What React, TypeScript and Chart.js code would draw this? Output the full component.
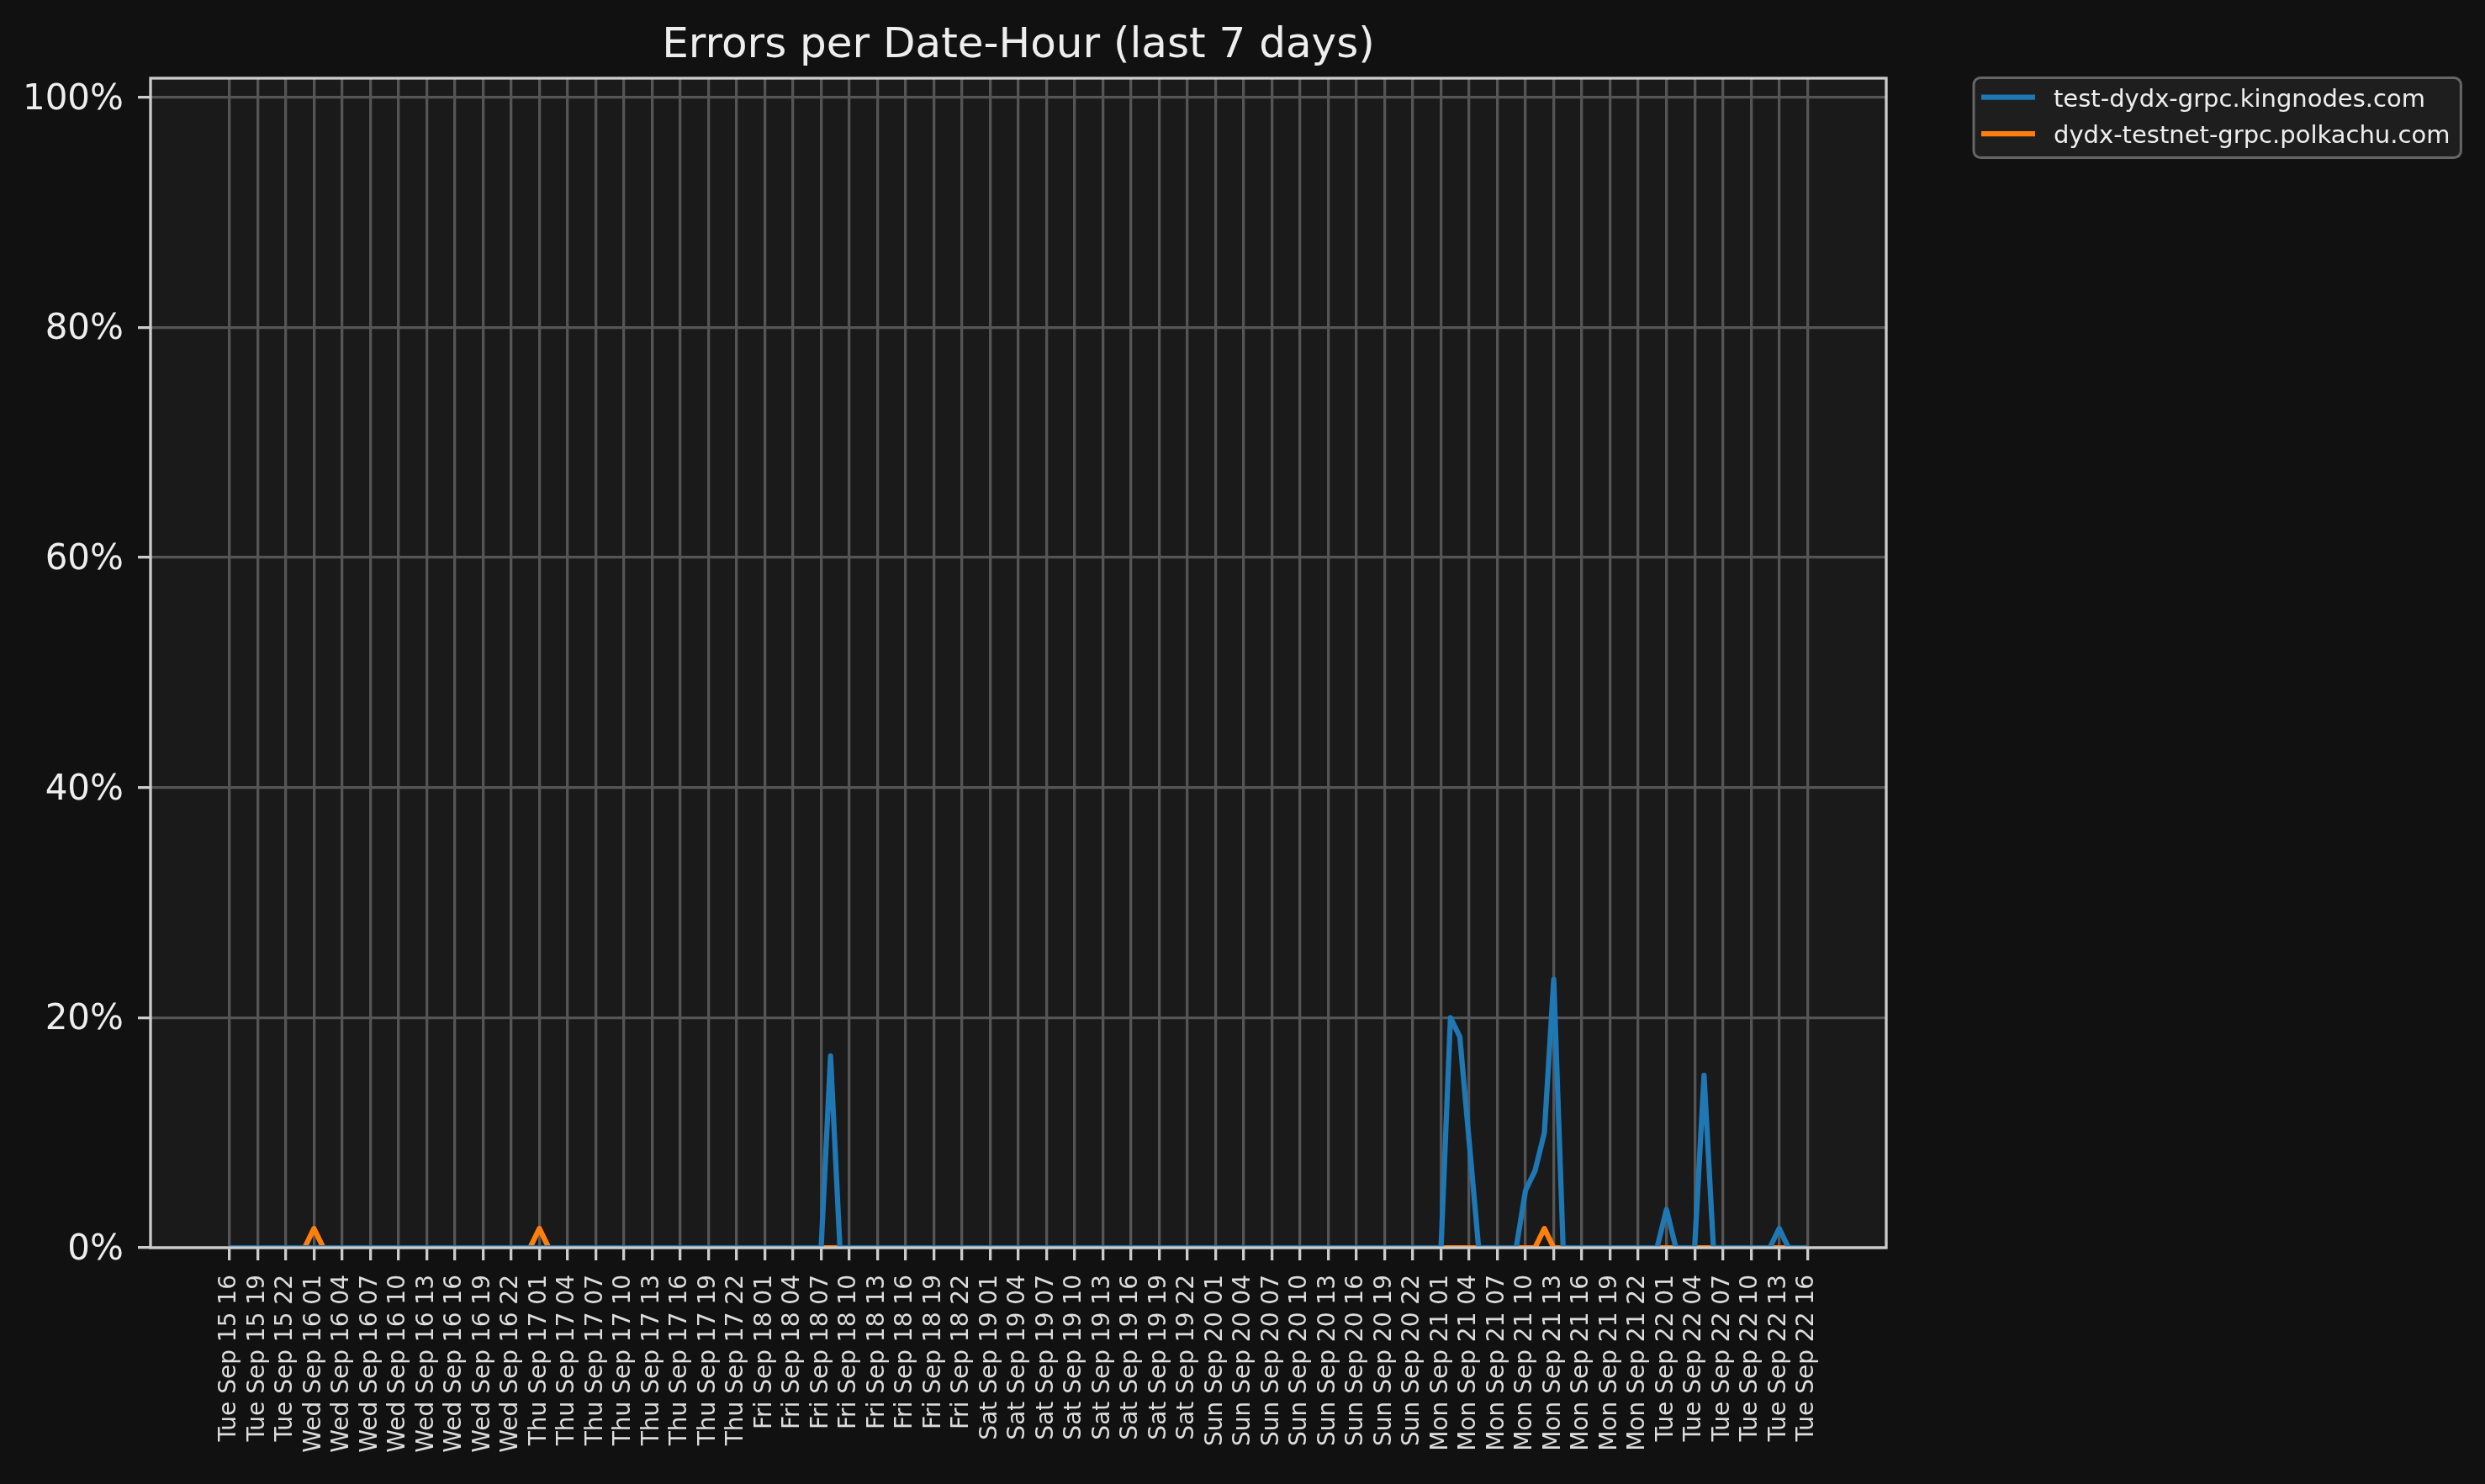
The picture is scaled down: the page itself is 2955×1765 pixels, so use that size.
import { useEffect, useRef } from "react";
import { Chart, registerables } from "chart.js";

Chart.register(...registerables);

const FONT = '"DejaVu Sans", "Liberation Sans", sans-serif';

const chartTitle = "Errors per Date-Hour (last 7 days)";
const seriesNames = ["test-dydx-grpc.kingnodes.com", "dydx-testnet-grpc.polkachu.com"];
const seriesColors = ["#1f77b4", "#ff7f0e"];

// error rate in %, one value per hour: Tue Sep 15 16:00 .. Tue Sep 22 16:00
const kingnodesErrors = [
  // Tue Sep 15, 16-23
  0, 0, 0, 0, 0, 0, 0, 0,
  // Wed Sep 16
  0, 0, 0, 0, 0, 0, 0, 0, 0, 0, 0, 0, 0, 0, 0, 0, 0, 0, 0, 0, 0, 0, 0, 0,
  // Thu Sep 17
  0, 0, 0, 0, 0, 0, 0, 0, 0, 0, 0, 0, 0, 0, 0, 0, 0, 0, 0, 0, 0, 0, 0, 0,
  // Fri Sep 18
  0, 0, 0, 0, 0, 0, 0, 0, 16.67, 0, 0, 0, 0, 0, 0, 0, 0, 0, 0, 0, 0, 0, 0, 0,
  // Sat Sep 19
  0, 0, 0, 0, 0, 0, 0, 0, 0, 0, 0, 0, 0, 0, 0, 0, 0, 0, 0, 0, 0, 0, 0, 0,
  // Sun Sep 20
  0, 0, 0, 0, 0, 0, 0, 0, 0, 0, 0, 0, 0, 0, 0, 0, 0, 0, 0, 0, 0, 0, 0, 0,
  // Mon Sep 21
  0, 0, 20, 18.33, 9.17, 0, 0, 0, 0, 0, 5, 6.67, 10, 23.33, 0, 0, 0, 0, 0, 0, 0, 0, 0, 0,
  // Tue Sep 22, 00-16
  0, 3.33, 0, 0, 0, 15, 0, 0, 0, 0, 0, 0, 0, 1.67, 0, 0, 0,
];

const polkachuErrors = [
  // Tue Sep 15, 16-23
  0, 0, 0, 0, 0, 0, 0, 0,
  // Wed Sep 16
  0, 1.67, 0, 0, 0, 0, 0, 0, 0, 0, 0, 0, 0, 0, 0, 0, 0, 0, 0, 0, 0, 0, 0, 0,
  // Thu Sep 17
  0, 1.67, 0, 0, 0, 0, 0, 0, 0, 0, 0, 0, 0, 0, 0, 0, 0, 0, 0, 0, 0, 0, 0, 0,
  // Fri Sep 18
  0, 0, 0, 0, 0, 0, 0, 0, 0, 0, 0, 0, 0, 0, 0, 0, 0, 0, 0, 0, 0, 0, 0, 0,
  // Sat Sep 19
  0, 0, 0, 0, 0, 0, 0, 0, 0, 0, 0, 0, 0, 0, 0, 0, 0, 0, 0, 0, 0, 0, 0, 0,
  // Sun Sep 20
  0, 0, 0, 0, 0, 0, 0, 0, 0, 0, 0, 0, 0, 0, 0, 0, 0, 0, 0, 0, 0, 0, 0, 0,
  // Mon Sep 21
  0, 0, 0, 0, 0, 0, 0, 0, 0, 0, 0, 0, 1.67, 0, 0, 0, 0, 0, 0, 0, 0, 0, 0, 0,
  // Tue Sep 22, 00-16
  0, 0, 0, 0, 0, 0, 0, 0, 0, 0, 0, 0, 0, 0, 0, 0, 0,
];

// one label every 3 hours
const xTickLabels = [
  "Tue Sep 15 16", "Tue Sep 15 19", "Tue Sep 15 22",
  "Wed Sep 16 01", "Wed Sep 16 04", "Wed Sep 16 07", "Wed Sep 16 10",
  "Wed Sep 16 13", "Wed Sep 16 16", "Wed Sep 16 19", "Wed Sep 16 22",
  "Thu Sep 17 01", "Thu Sep 17 04", "Thu Sep 17 07", "Thu Sep 17 10",
  "Thu Sep 17 13", "Thu Sep 17 16", "Thu Sep 17 19", "Thu Sep 17 22",
  "Fri Sep 18 01", "Fri Sep 18 04", "Fri Sep 18 07", "Fri Sep 18 10",
  "Fri Sep 18 13", "Fri Sep 18 16", "Fri Sep 18 19", "Fri Sep 18 22",
  "Sat Sep 19 01", "Sat Sep 19 04", "Sat Sep 19 07", "Sat Sep 19 10",
  "Sat Sep 19 13", "Sat Sep 19 16", "Sat Sep 19 19", "Sat Sep 19 22",
  "Sun Sep 20 01", "Sun Sep 20 04", "Sun Sep 20 07", "Sun Sep 20 10",
  "Sun Sep 20 13", "Sun Sep 20 16", "Sun Sep 20 19", "Sun Sep 20 22",
  "Mon Sep 21 01", "Mon Sep 21 04", "Mon Sep 21 07", "Mon Sep 21 10",
  "Mon Sep 21 13", "Mon Sep 21 16", "Mon Sep 21 19", "Mon Sep 21 22",
  "Tue Sep 22 01", "Tue Sep 22 04", "Tue Sep 22 07", "Tue Sep 22 10",
  "Tue Sep 22 13", "Tue Sep 22 16",
];
const HOURS_PER_TICK = 3;

const yTicks = [0, 20, 40, 60, 80, 100];
const Y_MAX = 101.67;

const frame = {
  id: "frame",
  beforeDraw(chart: any) {
    const { ctx, chartArea: a } = chart;
    ctx.save();
    ctx.fillStyle = "#1a1a1a";
    ctx.fillRect(a.left, a.top, a.width, a.height);
    ctx.restore();
  },
  afterDatasetsDraw(chart: any) {
    const { ctx, chartArea: a } = chart;
    ctx.save();
    ctx.strokeStyle = "#cccccc";
    ctx.lineWidth = 3.3;
    ctx.strokeRect(a.left, a.top, a.width, a.height);
    ctx.restore();
  },
  afterDraw(chart: any) {
    const { ctx, chartArea: a } = chart;
    ctx.save();
    // title
    ctx.fillStyle = "#eeeeee";
    ctx.font = `50px ${FONT}`;
    ctx.textAlign = "center";
    ctx.textBaseline = "alphabetic";
    ctx.fillText(chartTitle, (a.left + a.right) / 2, 68);

    // legend, outside on the right
    ctx.font = `29px ${FONT}`;
    const sets = chart.data.datasets;
    const textW = Math.max(...sets.map((d: any) => ctx.measureText(d.label).width));
    const x0 = a.right + 104;
    const y0 = a.top - 0.5;
    const w = 95 + textW + 13;
    const h = 95;
    ctx.beginPath();
    ctx.roundRect(x0, y0, w, h, 8);
    ctx.fillStyle = "#1e1e1e";
    ctx.fill();
    ctx.strokeStyle = "#666666";
    ctx.lineWidth = 3;
    ctx.stroke();
    ctx.textAlign = "left";
    sets.forEach((d: any, i: number) => {
      const ry = y0 + 23 + i * 43.5;
      ctx.beginPath();
      ctx.moveTo(x0 + 9, ry);
      ctx.lineTo(x0 + 73, ry);
      ctx.strokeStyle = d.borderColor;
      ctx.lineWidth = 6.25;
      ctx.stroke();
      ctx.fillStyle = "#eeeeee";
      ctx.fillText(d.label, x0 + 95, ry + 11);
    });
    ctx.restore();
  },
};

function ErrorsChart() {
  const canvasRef = useRef<HTMLCanvasElement>(null);

  useEffect(() => {
    const canvas = canvasRef.current;
    if (!canvas) return;
    const series = [kingnodesErrors, polkachuErrors];
    const lastHour = (xTickLabels.length - 1) * HOURS_PER_TICK;
    const margin = lastHour * 0.05;
    const chart = new Chart(canvas, {
      type: "line",
      data: {
        datasets: series.map((values, i) => ({
          label: seriesNames[i],
          data: values.map((v, h) => ({ x: h, y: v })),
          borderColor: seriesColors[i],
          backgroundColor: seriesColors[i],
          borderWidth: 6.25,
          borderJoinStyle: "round" as const,
          pointRadius: 0,
          pointHoverRadius: 0,
          tension: 0,
          fill: false,
        })),
      },
      options: {
        animation: false,
        responsive: true,
        maintainAspectRatio: false,
        events: [],
        layout: { padding: { top: 93, right: 712, left: 0, bottom: 0 } },
        plugins: {
          legend: { display: false },
          title: { display: false },
          tooltip: { enabled: false },
        },
        scales: {
          x: {
            type: "linear",
            min: -margin,
            max: lastHour + margin,
            afterBuildTicks: (s: any) => {
              s.ticks = xTickLabels.map((_, i) => ({ value: i * HOURS_PER_TICK }));
            },
            afterFit: (s: any) => {
              s.height = 281;
            },
            ticks: {
              autoSkip: false,
              minRotation: 90,
              maxRotation: 90,
              padding: 17,
              color: "#dddddd",
              font: { family: FONT, size: 28 },
              callback: (_v: any, i: number) => xTickLabels[i],
            },
            grid: {
              color: "#555555",
              lineWidth: 3.3,
              tickLength: 15,
              tickColor: "#cccccc",
              tickWidth: 3.3,
            },
            border: { display: false },
          },
          y: {
            type: "linear",
            min: 0,
            max: Y_MAX,
            afterBuildTicks: (s: any) => {
              s.ticks = yTicks.map((v) => ({ value: v }));
            },
            afterFit: (s: any) => {
              s.width = 179;
            },
            ticks: {
              padding: 17,
              labelOffset: 3,
              color: "#eeeeee",
              font: { family: FONT, size: 42 },
              callback: (v: any) => `${v}%`,
            },
            grid: {
              color: "#555555",
              lineWidth: 3.3,
              tickLength: 15,
              tickColor: "#cccccc",
              tickWidth: 3.3,
            },
            border: { display: false },
          },
        },
      },
      plugins: [frame],
    });
    return () => chart.destroy();
  }, []);

  return <canvas ref={canvasRef}></canvas>;
}

export default function App() {
  return (
    <div style={{ position: "fixed", inset: 0, background: "#111111" }}>
      <ErrorsChart />
    </div>
  );
}
